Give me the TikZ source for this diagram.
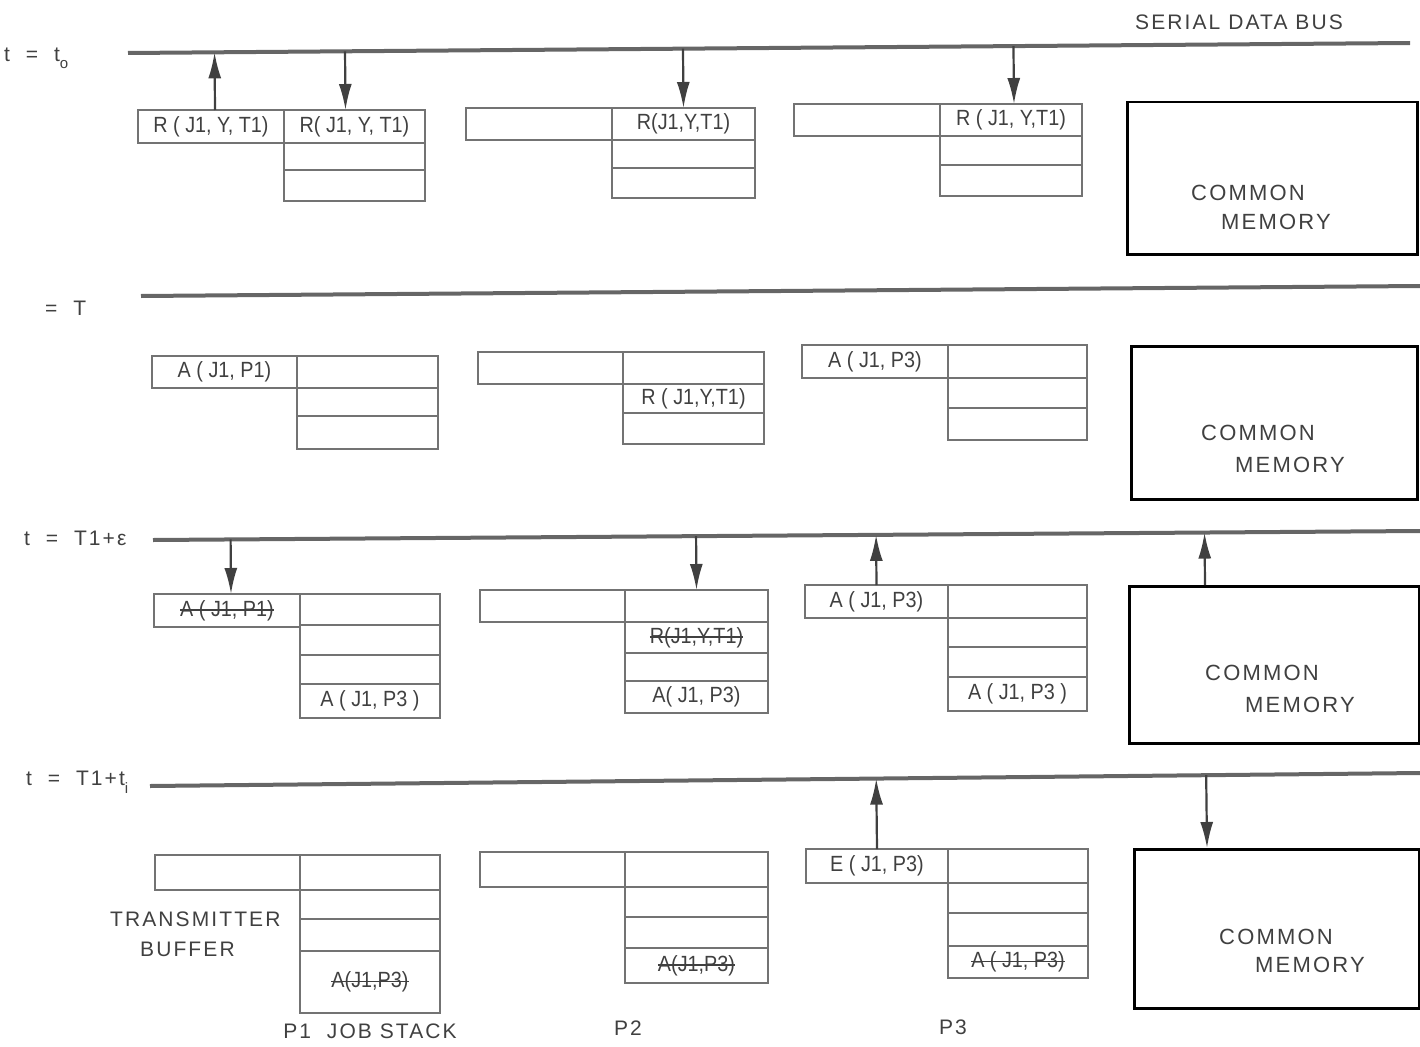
\documentclass[tikz,border=0pt]{standalone}
\usepackage{fontspec}
\usetikzlibrary{positioning,arrows.meta,calc}
\newfontfamily\plainlet{Liberation Sans}[FakeStretch=0.9]
\newfontfamily\widelet{Liberation Sans}[LetterSpace=10]
\definecolor{ink}{gray}{0.25}
\definecolor{boxgray}{gray}{0.45}
\definecolor{busgray}{gray}{0.4}
\newcommand\cellfont{\plainlet\fontsize{22}{26}\selectfont}
\newcommand\labfont{\widelet\fontsize{21}{25}\selectfont}
\newcommand\memfont{\widelet\fontsize{22}{26}\selectfont}
\newcommand\crossout[1]{\setbox0=\hbox{#1}\rlap{\rule[0.33\ht0]{\wd0}{1.8pt}}\box0}
\begin{document}
\begin{tikzpicture}[x=1pt,y=-1pt,
	cell/.style={draw=boxgray, line width=1.3pt, inner sep=0pt, outer sep=0pt, minimum width=141pt, minimum height=#1, font=\cellfont, text=ink},
	cell/.default=30pt,
	buf/.style={cell=#1, minimum width=146pt},
	buf/.default=33pt,
	mem/.style={draw=black, line width=2.5pt, anchor=north west, inner sep=0pt},
	bus/.style={draw=busgray, line width=4pt},
	arr/.style={draw=ink, line width=2.2pt, -{Latex[length=26pt,width=13pt]}},
	lab/.style={font=\labfont, text=ink, inner sep=0pt},
	memtext/.style={font=\memfont, text=ink, inner sep=0pt}]
	\useasboundingbox (0,0) rectangle (1420,1046);
	
	% t = t0
	\coordinate (abusL) at (128,53);
	\coordinate (abusR) at (1410,43);
	\draw[bus] (abusL) -- (abusR);
	\node[lab] (busname) at (1239,22) {SERIAL DATA BUS};
	\node[lab, anchor=west] (ta) at (4,58) {t\ \ =\ \ t\raisebox{-7pt}{\fontsize{15}{15}\selectfont o}};
	
	\node[cell=33pt, anchor=north west] (a1s1) at (284,110) {R( J1, Y, T1)};
	\node[cell=27pt, below right=0pt and 0pt of a1s1.south west] (a1s2) {};
	\node[cell=31pt, below right=0pt and 0pt of a1s2.south west] (a1s3) {};
	\node[buf=33pt, below left=0pt and 0pt of a1s1.north west] (a1tb) {R ( J1, Y, T1)};
	
	\node[cell=32pt, minimum width=143pt, anchor=north west] (a2s1) at (612,108) {R(J1,Y,T1)};
	\node[cell=28pt, minimum width=143pt, below right=0pt and 0pt of a2s1.south west] (a2s2) {};
	\node[cell=30pt, minimum width=143pt, below right=0pt and 0pt of a2s2.south west] (a2s3) {};
	\node[buf=32pt, below left=0pt and 0pt of a2s1.north west] (a2tb) {};
	
	\node[cell=32pt, minimum width=142pt, anchor=north west] (a3s1) at (940,104) {R ( J1, Y,T1)};
	\node[cell=29pt, minimum width=142pt, below right=0pt and 0pt of a3s1.south west] (a3s2) {};
	\node[cell=31pt, minimum width=142pt, below right=0pt and 0pt of a3s2.south west] (a3s3) {};
	\node[buf=32pt, below left=0pt and 0pt of a3s1.north west] (a3tb) {};
	
	\node[mem, minimum width=290pt, minimum height=152pt] (amem) at (1126,101) {};
	\node[memtext] (acom) at (1248,193) {COMMON};
	\node[memtext] (amemo) at (1276,222) {MEMORY};
	
	\draw[arr] ([xshift=4pt]a1tb.north) -- ($(abusL)!([xshift=4pt]a1tb.north)!(abusR)$);
	\draw[arr] ($(abusL)!([xshift=-9pt]a1s1.north)!(abusR)$) -- ([xshift=-9pt]a1s1.north);
	\draw[arr] ($(abusL)!(a2s1.north)!(abusR)$) -- (a2s1.north);
	\draw[arr] ($(abusL)!([xshift=3pt]a3s1.north)!(abusR)$) -- ([xshift=3pt]a3s1.north);
	
	% = T
	\coordinate (bbusL) at (141,296);
	\coordinate (bbusR) at (1420,286);
	\draw[bus] (bbusL) -- (bbusR);
	\node[lab, anchor=west] (tb) at (45,308) {=\ \ T};
	
	\node[cell=32pt, anchor=north west] (b1s1) at (297,356) {};
	\node[cell=28pt, below right=0pt and 0pt of b1s1.south west] (b1s2) {};
	\node[cell=33pt, below right=0pt and 0pt of b1s2.south west] (b1s3) {};
	\node[buf=32pt, minimum width=145pt, below left=0pt and 0pt of b1s1.north west] (b1tb) {A ( J1, P1)};
	
	\node[cell=32pt, anchor=north west] (b2s1) at (623,352) {};
	\node[cell=29pt, below right=0pt and 0pt of b2s1.south west] (b2s2) {R ( J1,Y,T1)};
	\node[cell=31pt, below right=0pt and 0pt of b2s2.south west] (b2s3) {};
	\node[buf=32pt, minimum width=145pt, below left=0pt and 0pt of b2s1.north west] (b2tb) {};
	
	\node[cell=33pt, minimum width=139pt, anchor=north west] (b3s1) at (948,345) {};
	\node[cell=30pt, minimum width=139pt, below right=0pt and 0pt of b3s1.south west] (b3s2) {};
	\node[cell=32pt, minimum width=139pt, below right=0pt and 0pt of b3s2.south west] (b3s3) {};
	\node[buf=33pt, below left=0pt and 0pt of b3s1.north west] (b3tb) {A ( J1, P3)};
	
	\node[mem, minimum width=286pt, minimum height=153pt] (bmem) at (1130,345) {};
	\node[memtext] (bcom) at (1258,433) {COMMON};
	\node[memtext] (bmemo) at (1290,465) {MEMORY};
	
	% t = T1 + eps
	\coordinate (cbusL) at (153,540);
	\coordinate (cbusR) at (1420,531);
	\draw[bus] (cbusL) -- (cbusR);
	\node[lab, anchor=west] (tc) at (24,538) {t\ \ =\ \ T1+ε};
	
	\node[cell=31pt, minimum width=140pt, anchor=north west] (c1s1) at (300,594) {};
	\node[cell=30pt, minimum width=140pt, below right=0pt and 0pt of c1s1.south west] (c1s2) {};
	\node[cell=29pt, minimum width=140pt, below right=0pt and 0pt of c1s2.south west] (c1s3) {};
	\node[cell=34pt, minimum width=140pt, below right=0pt and 0pt of c1s3.south west] (c1s4) {A ( J1, P3 )};
	\node[buf=33pt, below left=0pt and 0pt of c1s1.north west] (c1tb) {\crossout{A ( J1, P1)}};
	
	\node[cell=32pt, minimum width=143pt, anchor=north west] (c2s1) at (625,590) {};
	\node[cell=31pt, minimum width=143pt, below right=0pt and 0pt of c2s1.south west] (c2s2) {\crossout{R(J1,Y,T1)}};
	\node[cell=28pt, minimum width=143pt, below right=0pt and 0pt of c2s2.south west] (c2s3) {};
	\node[cell=32pt, minimum width=143pt, below right=0pt and 0pt of c2s3.south west] (c2s4) {A( J1, P3)};
	\node[buf=32pt, minimum width=145pt, below left=0pt and 0pt of c2s1.north west] (c2tb) {};
	
	\node[cell=33pt, minimum width=139pt, anchor=north west] (c3s1) at (948,585) {};
	\node[cell=29pt, minimum width=139pt, below right=0pt and 0pt of c3s1.south west] (c3s2) {};
	\node[cell=30pt, minimum width=139pt, below right=0pt and 0pt of c3s2.south west] (c3s3) {};
	\node[cell=34pt, minimum width=139pt, below right=0pt and 0pt of c3s3.south west] (c3s4) {A ( J1, P3 )};
	\node[buf=33pt, minimum width=143pt, below left=0pt and 0pt of c3s1.north west] (c3tb) {A ( J1, P3)};
	
	\node[mem, minimum width=290pt, minimum height=157pt] (cmem) at (1128,585) {};
	\node[memtext] (ccom) at (1262,673) {COMMON};
	\node[memtext] (cmemo) at (1300,705) {MEMORY};
	\coordinate (cmemup) at ([xshift=77pt]cmem.north west);
	
	\draw[arr] ($(cbusL)!([xshift=4pt]c1tb.north)!(cbusR)$) -- ([xshift=4pt]c1tb.north);
	\draw[arr] ($(cbusL)!(c2s1.north)!(cbusR)$) -- (c2s1.north);
	\draw[arr] (c3tb.north) -- ($(cbusL)!(c3tb.north)!(cbusR)$);
	\draw[arr] (cmemup) -- ($(cbusL)!(cmemup)!(cbusR)$);
	
	% t = T1 + ti
	\coordinate (dbusL) at (150,786);
	\coordinate (dbusR) at (1420,773);
	\draw[bus] (dbusL) -- (dbusR);
	\node[lab, anchor=west] (td) at (26,782) {t\ \ =\ \ T1+t\raisebox{-8pt}{\fontsize{15}{15}\selectfont i}};
	
	\node[cell=35pt, minimum width=140pt, anchor=north west] (d1s1) at (300,855) {};
	\node[cell=29pt, minimum width=140pt, below right=0pt and 0pt of d1s1.south west] (d1s2) {};
	\node[cell=32pt, minimum width=140pt, below right=0pt and 0pt of d1s2.south west] (d1s3) {};
	\node[cell=62pt, minimum width=140pt, below right=0pt and 0pt of d1s3.south west] (d1s4) {\raisebox{-10pt}{\crossout{A(J1,P3)}}};
	\node[buf=35pt, minimum width=145pt, below left=0pt and 0pt of d1s1.north west] (d1tb) {};
	
	\node[cell=35pt, minimum width=143pt, anchor=north west] (d2s1) at (625,852) {};
	\node[cell=30pt, minimum width=143pt, below right=0pt and 0pt of d2s1.south west] (d2s2) {};
	\node[cell=31pt, minimum width=143pt, below right=0pt and 0pt of d2s2.south west] (d2s3) {};
	\node[cell=35pt, minimum width=143pt, below right=0pt and 0pt of d2s3.south west] (d2s4) {\crossout{A(J1,P3)}};
	\node[buf=35pt, minimum width=145pt, below left=0pt and 0pt of d2s1.north west] (d2tb) {};
	
	\node[cell=34pt, minimum width=140pt, anchor=north west] (d3s1) at (948,849) {};
	\node[cell=30pt, minimum width=140pt, below right=0pt and 0pt of d3s1.south west] (d3s2) {};
	\node[cell=33pt, minimum width=140pt, below right=0pt and 0pt of d3s2.south west] (d3s3) {};
	\node[cell=32pt, minimum width=140pt, below right=0pt and 0pt of d3s3.south west] (d3s4) {\crossout{A ( J1, P3)}};
	\node[buf=34pt, minimum width=142pt, below left=0pt and 0pt of d3s1.north west] (d3tb) {E ( J1, P3)};
	
	\node[mem, minimum width=285pt, minimum height=159pt] (dmem) at (1133,848) {};
	\node[memtext] (dcom) at (1276,937) {COMMON};
	\node[memtext] (dmemo) at (1310,965) {MEMORY};
	\coordinate (dmemin) at ([xshift=74pt]dmem.north west);
	
	\draw[arr] (d3tb.north) -- ($(dbusL)!(d3tb.north)!(dbusR)$);
	\draw[arr] ($(dbusL)!(dmemin)!(dbusR)$) -- (dmemin);
	
	\node[lab, anchor=west] (tbname) at (110,919) {TRANSMITTER};
	\node[lab, anchor=west] (tbname2) at (140,949) {BUFFER};
	\node[lab] (p1name) at (370,1031) {P1\ \ JOB STACK};
	\node[lab] (p2name) at (628,1028) {P2};
	\node[lab] (p3name) at (953,1027) {P3};
\end{tikzpicture}
\end{document}
